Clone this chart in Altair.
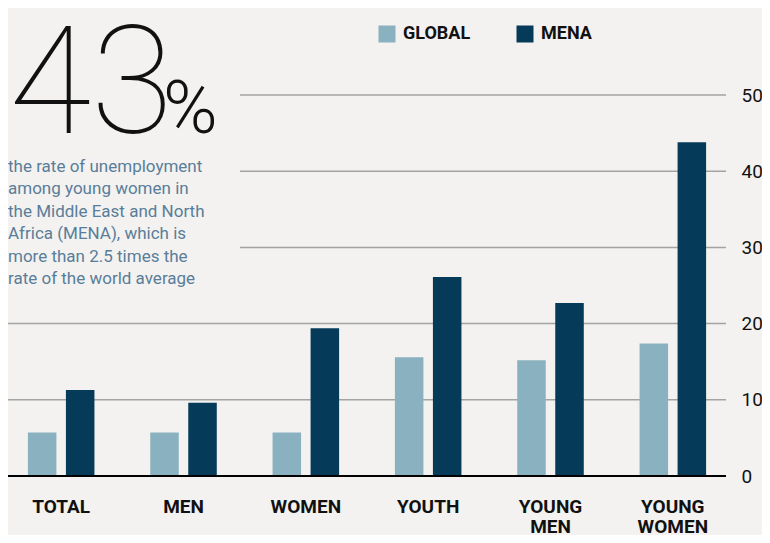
import altair as alt
import pandas as pd

# ---- data ----
categories = ["TOTAL", "MEN", "WOMEN", "YOUTH", "YOUNG MEN", "YOUNG WOMEN"]
series = ["GLOBAL", "MENA"]
global_values = [5.7, 5.7, 5.7, 15.6, 15.2, 17.4]
mena_values = [11.3, 9.6, 19.4, 26.1, 22.7, 43.8]
y_ticks = [0, 10, 20, 30, 40, 50]
grid_full = [10, 20]
grid_short = [30, 40, 50]
baseline_value = [0]
big_number = "43"
big_unit = "%"
description = [
    "the rate of unemployment",
    "among young women in",
    "the Middle East and North",
    "Africa (MENA), which is",
    "more than 2.5 times the",
    "rate of the world average",
]

colors = ["#8ab1bf", "#053a59"]
bg = "#f3f2f0"
bold_font = "Roboto"
thin_font = "Roboto"

rows = []
for c, g, m in zip(categories, global_values, mena_values):
    rows.append({"category": c, "series": "GLOBAL", "value": g})
    rows.append({"category": c, "series": "MENA", "value": m})
df = pd.DataFrame(rows)

W, H = 718, 381

yscale = alt.Scale(domain=[0, 50], nice=False)

bars = alt.Chart(df).mark_bar().encode(
    x=alt.X(
        "category:N",
        sort=categories,
        scale=alt.Scale(paddingInner=0.456, paddingOuter=0.228, range=[-8, 726]),
        axis=alt.Axis(
            title=None,
            orient="bottom",
            ticks=False,
            domain=False,
            labelAngle=0,
            labelFont=bold_font,
            labelFontWeight="bold",
            labelFontSize=19,
            labelColor="#111111",
            labelPadding=21,
            labelBaseline="top",
            labelLineHeight=20,
            labelExpr="split(datum.label, ' ')",
        ),
    ),
    xOffset=alt.XOffset("series:N", sort=series, scale=alt.Scale(paddingInner=0.25)),
    y=alt.Y(
        "value:Q",
        scale=yscale,
        axis=alt.Axis(
            title=None,
            orient="right",
            values=y_ticks,
            grid=False,
            ticks=False,
            domain=False,
            labelFont="Roboto",
            labelFontSize=19,
            labelColor="#111111",
            labelPadding=15,
        ),
    ),
    color=alt.Color(
        "series:N",
        sort=series,
        scale=alt.Scale(domain=series, range=colors),
        legend=alt.Legend(
            title=None,
            orient="none",
            legendX=370,
            legendY=-70,
            direction="horizontal",
            symbolType="square",
            symbolSize=289,
            symbolStrokeWidth=0,
            symbolOpacity=1,
            labelFont=bold_font,
            labelFontWeight="bold",
            labelFontSize=18,
            labelColor="#111111",
            labelOffset=7,
            columnPadding=45,
        ),
    ),
)

grid_a = alt.Chart(pd.DataFrame({"v": grid_full})).mark_rule(
    color="#a3a3a3", strokeWidth=1.5
).encode(y=alt.Y("v:Q", scale=yscale))

grid_b = alt.Chart(pd.DataFrame({"v": grid_short})).mark_rule(
    color="#a3a3a3", strokeWidth=1.5
).encode(y=alt.Y("v:Q", scale=yscale), x=alt.value(232), x2=alt.value("width"))

base = alt.Chart(pd.DataFrame({"v": baseline_value})).mark_rule(
    color="#000000", strokeWidth=2
).encode(y=alt.Y("v:Q", scale=yscale))

big = alt.Chart(pd.DataFrame({"t": [big_number]})).mark_text(
    font=thin_font, fontWeight=100, fontSize=150, align="left",
    baseline="alphabetic", color="#111111"
).encode(text="t:N", x=alt.value(1), y=alt.value(38))

unit = alt.Chart(pd.DataFrame({"t": [big_unit]})).mark_text(
    font=thin_font, fontWeight=300, fontSize=74, align="left",
    baseline="alphabetic", color="#111111"
).encode(text="t:N", x=alt.value(155), y=alt.value(38))

desc = alt.Chart(pd.DataFrame({"t": [0]})).mark_text(
    font="Roboto", fontSize=17, align="left", baseline="middle",
    lineHeight=22.4, color="#5a7d99"
).encode(text=alt.value(description), x=alt.value(0), y=alt.value(72))

chart = alt.layer(grid_a, grid_b, bars, base, big, unit, desc).properties(
    width=W, height=H,
    autosize=alt.AutoSizeParams(type="none"),
    padding={"top": 87, "left": 0, "right": 36, "bottom": 59},
).configure(background=bg).configure_view(stroke=None)

chart.save("out.html", embed_options={"renderer": "svg", "actions": False})
